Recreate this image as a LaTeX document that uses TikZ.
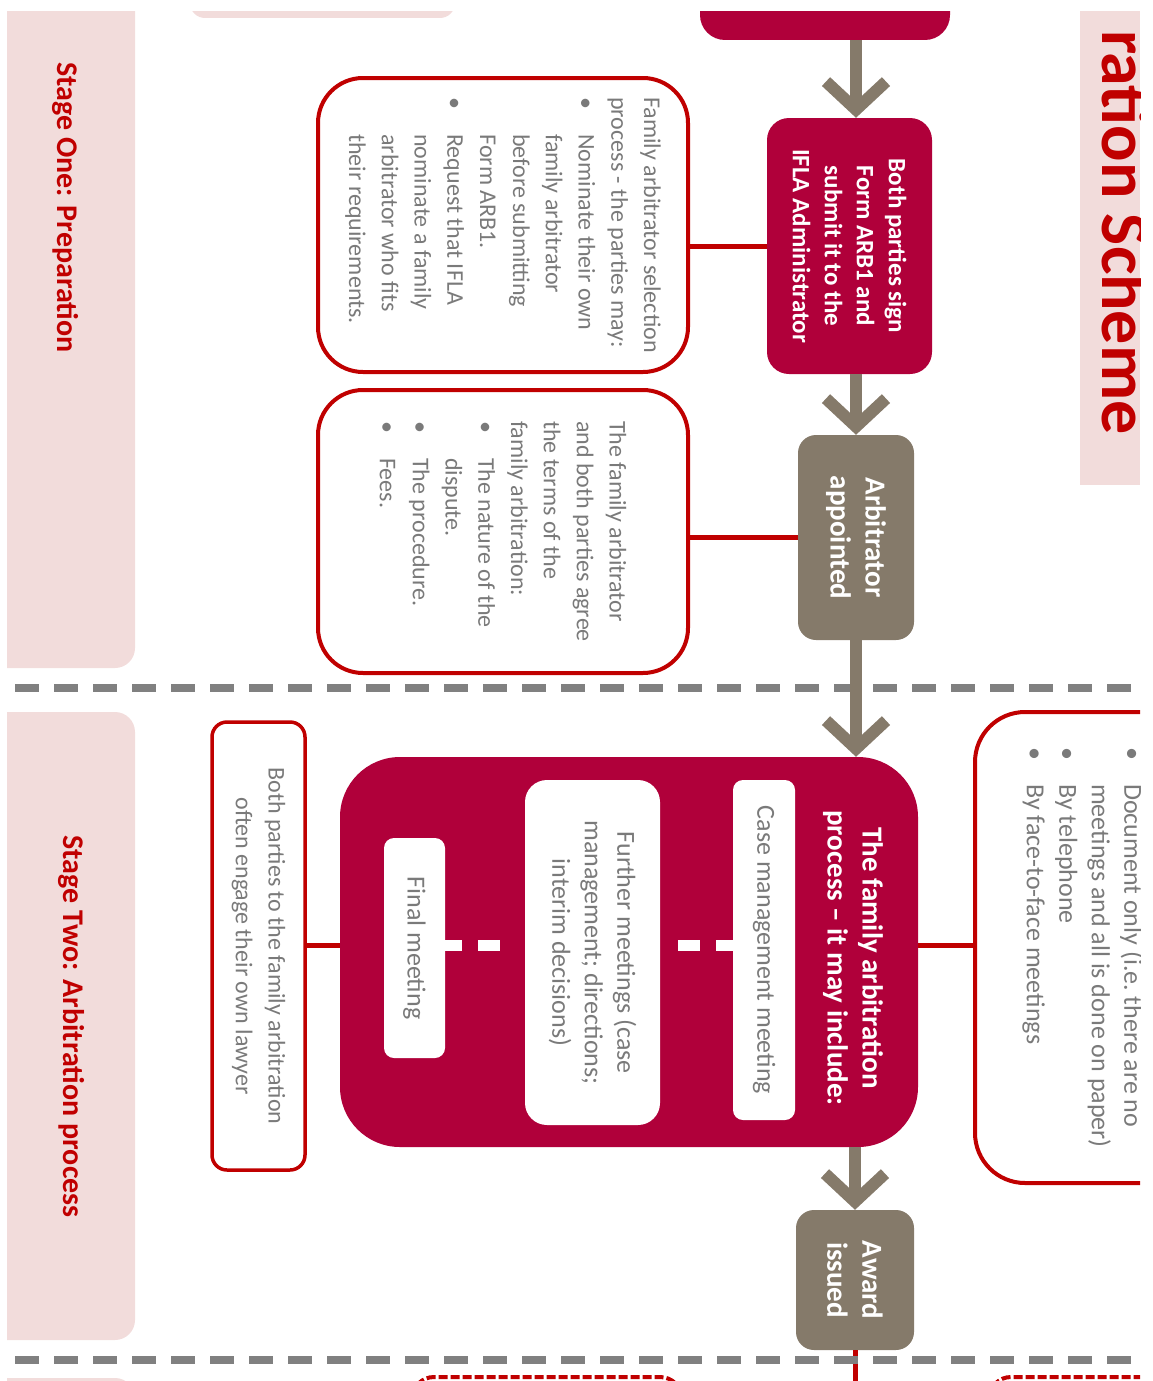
\documentclass[tikz,border=0pt]{standalone}
\usepackage{fontspec}
\setmainfont{Carlito}
\usetikzlibrary{positioning, arrows.meta}

\definecolor{crimson}{HTML}{B0003A}
\definecolor{taupe}{HTML}{857A6A}
\definecolor{linkred}{HTML}{C00000}
\definecolor{stagepink}{HTML}{F2DCDB}
\definecolor{sepgrey}{HTML}{808080}
\definecolor{bodygrey}{HTML}{7A7A7A}

\newcommand{\nbul}{\makebox[37pt][l]{\textbullet}}
\newcommand{\nind}{\hspace*{37pt}}

\tikzset{
  stepbox/.style={rotate=-90, fill=crimson, text=white, align=center, inner sep=0pt, rounded corners=22pt, font=\bfseries\fontsize{25}{32}\selectfont},
  greybox/.style={rotate=-90, fill=taupe, text=white, align=center, inner sep=0pt, rounded corners=18pt, font=\bfseries\fontsize{29}{35}\selectfont},
  notebox/.style={rotate=-90, draw=linkred, line width=4pt, fill=white, text=bodygrey, align=left, inner sep=0pt, font=\fontsize{24}{32.8}\selectfont},
  innerbox/.style={rotate=-90, fill=white, text=bodygrey, align=center, inner sep=0pt, font=\fontsize{26}{32.5}\selectfont},
  stagelabel/.style={rotate=-90, anchor=base west, inner sep=0pt, text=linkred, font=\bfseries\fontsize{30}{36}\selectfont},
  flow/.style={draw=taupe, line width=12pt, -{Straight Barb[sharp, length=28pt, width=60pt]}},
  link/.style={draw=linkred, line width=5pt},
  innerdash/.style={draw=white, line width=11pt, dash pattern=on 17pt off 16pt on 22pt off 200pt},
  sepline/.style={draw=sepgrey, line width=8pt, dash pattern=on 24pt off 15pt},
}

\begin{document}
\begin{tikzpicture}[x=1pt, y=-1pt]
  \useasboundingbox (0,0) rectangle (1152,1381);
  \clip (7,12) rectangle (1140,1381);

  \fill[stagepink, rounded corners=20pt] (-30,-40) rectangle (135,668);
  \fill[stagepink, rounded corners=20pt] (-30,712) rectangle (135,1340);
  \fill[stagepink, rounded corners=20pt] (-30,1378) rectangle (135,1500);
  \fill[stagepink, rounded corners=15pt] (190,-40) rectangle (455,18);
  \fill[stagepink] (1080,-20) rectangle (1140,485);

  \node (stageone) [stagelabel] at (57,62) {Stage One: Preparation};
  \node (stagetwo) [stagelabel] at (63,835) {Stage Two: Arbitration process};
  \node (scheme) [rotate=-90, anchor=base east, inner sep=0pt, text=linkred, font=\bfseries\fontsize{68}{80}\selectfont] at (1102,435) {ration Scheme};

  \begin{scope}
    \node (prevstep) [fill=crimson, rounded corners=25pt, minimum width=250pt, minimum height=110pt, inner sep=0pt] at (825,-15) {};
    \node (sign) [stepbox, minimum width=256pt, minimum height=165pt] at (849.5,246) {Both parties sign\\Form ARB1 and\\submit it to the\\IFLA Administrator};
    \node (appt) [greybox, minimum width=205pt, minimum height=116pt] at (856,537.5) {Arbitrator\\appointed};
    \node (big) [rotate=-90, fill=crimson, rounded corners=60pt, minimum width=390pt, minimum height=578pt, inner sep=0pt] at (629,952) {};
    \node (bigtitle) [rotate=-90, text=white, align=center, inner sep=0pt, font=\bfseries\fontsize{29}{35}\selectfont] at (853,958) {The family arbitration\\process -- it may include:};
    \node (case) [innerbox, rounded corners=10pt, minimum width=340pt, minimum height=62pt] at (764,950) {Case management meeting};
    \node (further) [innerbox, rounded corners=22pt, minimum width=345pt, minimum height=135pt] at (592.5,952.5) {Further meetings (case\\management; directions;\\interim decisions)};
    \node (final) [innerbox, rounded corners=10pt, minimum width=220pt, minimum height=61pt] at (414.5,948) {Final meeting};
    \node (award) [greybox, minimum width=140pt, minimum height=118pt] at (855,1280) {Award\\issued};
  \end{scope}

  \begin{scope}
    \node (selnote) [notebox, rounded corners=45pt, minimum width=294pt, minimum height=370pt] at (503,225) {Family arbitrator selection\\process - the parties may:\\\nbul Nominate their own\\\nind family arbitrator\\\nind before submitting\\\nind Form ARB1.\\\nbul Request that IFLA\\\nind nominate a family\\\nind arbitrator who fits\\\nind their requirements.};
    \node (agreenote) [notebox, rounded corners=45pt, minimum width=283pt, minimum height=370pt] at (503,531.5) {The family arbitrator\\and both parties agree\\the terms of the\\family arbitration:\\\nbul The nature of the\\\nind dispute.\\\nbul The procedure.\\\nbul Fees.};
    \node (opts) [notebox, font=\fontsize{26}{32.5}\selectfont, rounded corners=50pt, minimum width=471pt, minimum height=216pt] at (1083,947.5) {\nbul Document only (i.e.\ there are no\\\nind meetings and all is done on paper)\\\nbul By telephone\\\nbul By face-to-face meetings};
    \node (lawyer) [notebox, line width=3.5pt, align=center, rounded corners=15pt, minimum width=448pt, minimum height=93pt] at (258.5,946) {Both parties to the family arbitration\\often engage their own lawyer};
  \end{scope}

  \draw[draw=linkred, line width=4pt, dash pattern=on 9pt off 3pt, rounded corners=22pt] (412,1377) rectangle (682,1480);
  \draw[draw=linkred, line width=4pt, dash pattern=on 9pt off 3pt, rounded corners=22pt] (989,1377) rectangle (1300,1480);

  \coordinate (mid) at (0,945);
  \coordinate (below) at (855,1420);

  \begin{scope}[link]
    \path (sign.south) edge (sign.south -| selnote.north);
    \path (appt.south) edge (appt.south -| agreenote.north);
    \path (big.north |- mid) edge (opts.south |- mid);
    \path (big.south |- mid) edge (lawyer.north |- mid);
    \path (award.east) edge (below);
  \end{scope}

  \path (final.north |- mid) edge[innerdash] (further.south |- mid);
  \path (case.south |- mid) edge[innerdash] (further.north |- mid);

  \draw[sepline] (15,688) -- (1140,688);
  \draw[sepline] (15,1360) -- (1140,1360);

  \path (prevstep.south -| appt.center) edge[flow] (sign.west -| appt.center);
  \path (sign.east -| appt.center) edge[flow] (appt.west);
  \path (appt.east) edge[flow] (big.west -| appt.center);
  \path (big.east -| award.center) edge[flow] (award.west);
\end{tikzpicture}
\end{document}
